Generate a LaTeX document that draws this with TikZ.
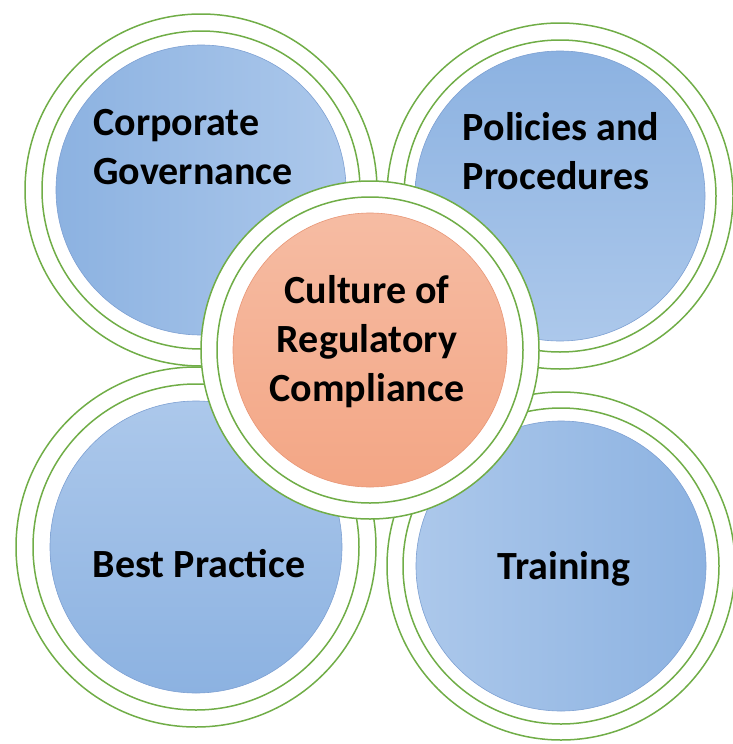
\documentclass[tikz,border=0pt]{standalone}
\usepackage{fontspec}
\setmainfont{Carlito}
\definecolor{ringgreen}{RGB}{112,173,71}
\definecolor{bluedark}{RGB}{140,178,225}
\definecolor{bluelight}{RGB}{172,200,235}
\definecolor{blueedge}{RGB}{125,160,210}
\definecolor{orangelight}{RGB}{246,188,163}
\definecolor{orangedark}{RGB}{243,166,133}
\definecolor{orangeedge}{RGB}{232,150,118}
\tikzset{
  ring/.style={draw=ringgreen, line width=1.5pt},
  halo/.style={fill=white},
  diskedge/.style={draw=blueedge, line width=0.6pt},
  coreedge/.style={draw=orangeedge, line width=0.6pt},
  caption/.style={font=\bfseries\fontsize{40}{49}\selectfont, inner sep=0pt, text=black},
}
\begin{document}
\begin{tikzpicture}[x=1pt, y=-1pt]
  \useasboundingbox (0,0) rectangle (732,744);

  % centres of the four outer circles and the core
  \coordinate (tl) at (201,190);
  \coordinate (tr) at (560,196);
  \coordinate (bl) at (196,547);
  \coordinate (br) at (561,566);
  \coordinate (cc) at (370,350);

  % double green rings around the outer circles
  \draw[ring] (tl) circle[radius=176];
  \draw[ring] (tl) circle[radius=159];
  \draw[ring] (tr) circle[radius=173];
  \draw[ring] (tr) circle[radius=156];
  \draw[ring] (bl) circle[radius=180];
  \draw[ring] (bl) circle[radius=163];
  \draw[ring] (br) circle[radius=174];
  \draw[ring] (br) circle[radius=158];

  % blue discs, darker on the side away from the core
  \shade[left color=bluedark, right color=bluelight] (tl) circle[radius=145];
  \shade[top color=bluedark, bottom color=bluelight] (tr) circle[radius=145];
  \shade[top color=bluelight, bottom color=bluedark] (bl) circle[radius=146];
  \shade[left color=bluelight, right color=bluedark] (br) circle[radius=145];
  \draw[diskedge] (tl) circle[radius=145];
  \draw[diskedge] (tr) circle[radius=145];
  \draw[diskedge] (bl) circle[radius=146];
  \draw[diskedge] (br) circle[radius=145];

  % the core circle sits on top with its own white halo
  \fill[halo] (cc) circle[radius=169];
  \draw[ring] (cc) circle[radius=169];
  \draw[ring] (cc) circle[radius=153];
  \shade[top color=orangelight, bottom color=orangedark] (cc) circle[radius=137];
  \draw[coreedge] (cc) circle[radius=137];

  % labels
  \node[caption, align=left] (tlt) at (193,147) {Corporate\\Governance};
  \node[caption, align=left] (trt) at (561,151) {Policies and\\Procedures};
  \node[caption, align=center] (cct) at (367,342) {Culture of\\Regulatory\\Compliance};
  \node[caption, anchor=base] (blt) at (199,577) {Best Practice};
  \node[caption, anchor=base] (brt) at (564,579) {Training};
\end{tikzpicture}
\end{document}
